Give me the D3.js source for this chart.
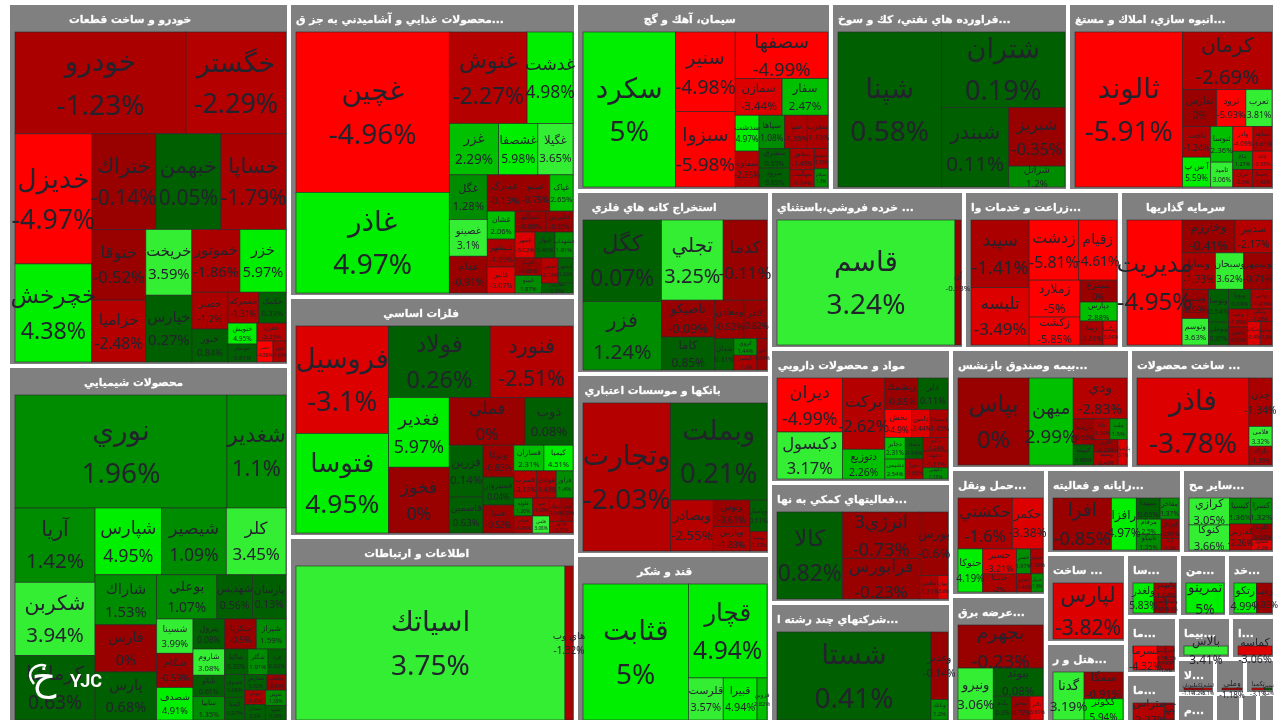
<!DOCTYPE html>
<html><head><meta charset="utf-8">
<script src="https://d3js.org/d3.v7.min.js"></script>
<style>
html,body{margin:0;padding:0;background:#fff;overflow:hidden}
svg{display:block;filter:blur(0.35px)}
text{font-family:"Noto Sans","DejaVu Sans",sans-serif}
.hd{font-family:"DejaVu Sans",sans-serif;font-weight:bold;font-size:10.7px;fill:#fff;stroke:rgba(255,255,255,.55);stroke-width:.4px;direction:ltr}
.lb{fill:#23232d;text-anchor:middle}
</style></head><body><svg id="c" width="1280" height="720"></svg>
<script>
const sectorNames=["خودرو و ساخت قطعات","محصولات شیمیایي","محصولات غذایي و آشامیدني به جز ق...","فلزات اساسي","اطلاعات و ارتباطات","سیمان، آهك و گچ","فراورده هاي نفتي، کك و سوخ...","انبوه سازي، املاك و مستغ...","استخراج کانه هاي فلزي","بانکها و موسسات اعتباري","قند و شکر","خرده فروشي،باستثناي ...","زراعت و خدمات وا...","سرمایه گذاریها","مواد و محصولات دارویي","فعالیتهاي کمکي به نها...","شرکتهاي چند رشته ا...","بیمه وصندوق بازنشس...","ساخت محصولات ...","حمل ونقل...","عرضه برق...","رایانه و فعالیته...","سایر مح...","ساخت ...","هتل و ر...","سا...","من...","خد...","ما...","ما...","بیما...","ا...","لا...","م...","","","","",""];
const sectorCaps=[102003,100598,84378,68880,53669,47940,44556,38916,35502,35114,32786,30652,24648,24490,24254,21720,21901,21480,17400,12065,12160,11560,7905,7120,6480,3339,3024,3024,2907,2550,2268,1848,1330,1140,1050,1050,780,510,510];
const stockNames=[
["خودرو","خگستر","خدیزل","خچرخش","ختراك","خبهمن","خساپا","ختوقا","خزامیا","خریخت","خپارس","خموتور","خزر","خصبر","ختور","خمحرکه","خکمک","خنویش","خوساز","ختترل","خفنر","خاور"],
["نوري","شغدیر","آریا","شکربن","کرماشا","شپارس","شیصیر","کلر","شاراك","فارس","پارس","بوعلي","شهدیس","پارسان","شسینا","شکام","شصدف","پترول","شکربا","شیراز","شاروم","نایکو","سابیا","شاکیا","شگلر","فرد","شدوق","کیمیا","شفارس","شلعاب","لبوتان","سمان","شوش","شیوه"],
["غچین","غاذر","غنوش","غدشت","غزر","غشصفا","غگیلا","غگل","غصینو","غدام","غمارگ","غبینو","غپاک","غشان","شبشهر","غالبر","غسالم","غکورش","غمهر","غبهار","غشهداب","غویتا","غپینو","غدیس","غبشهر","غفارس"],
["فروسیل","فتوسا","فولاد","فنورد","فغدیر","فخوز","فملي","ذوب","فزرین","فاسمین","ونوکا","فسبزوار","فسا","فسازان","کیمیا","فسرب","هولدی","فراور","فلوله","فجام","فبیر","فلس","فنوال","فجر","فرآور"],
["اسیاتك","هاي وب"],
["سکرد","سنیر","سبزوا","سصفها","سمازن","سفار","سدشت","سفاوه","سپاها","سپا","سغرب","سشرق","سرود","سخوز","سهگمت","سبجنو","سیلام"],
["شپنا","شتران","شبندر","شبریز","شراتل"],
["ثالوند","کرمان","ثفارس","ثرود","ثعرب","ثاخت","آ س پ","ثنوسا","ثامید","واذر","ثشاهد","ثباغ","ثتران","ثاباد","ثاصفا"],
["کگل","فزر","تجلي","کدما","تاصیکو","کاما","ومعادن","کاقر","شدان","کروی","کپشیر","کنور"],
["وتجارت","وبملت","وبصادر","وتوس","وپارس","وپاسار","وسینا"],
["قثابت","قچار","قلرست","قبیرا","قزوین"],
["قاسم","آن"],
["سپید","تلیسه","زدشت","زقیام","زملارد","زکشت","سیمرغ","دپارس","زبینا","زمگسا"],
["مدیریت","وخارزم","سدبیر","وساپا","وسبحان","وسمهر","وتسی","وتوسم","وتوصا","وبوعلی","وپویا","واتی","وصنا","وامین","ونیکی","وسکاب","وملل"],
["دیران","دکبسول","برکت","دتوزیع","ریشمك","دلر","بخش","دامین","دسبحا","دجابر","دشیمی","دتماد","دفرا","دالبر","دعبید","دکیمی"],
["کالا","انرژي3","فرابورس","بورس","نظمی","مهان"],
["شستا","وغدیر","وبانك"],
["بپاس","میهن","ودي","بازبیما","کبیمه","دانا","ملت","البرز","وسبحا","پارسیان"],
["فاذر","چدن","فلامی","بازاك"],
["حکشتي","حکمر","حتوکا","حسیر","حاسا","حسر","حبندر","حپترو","حریل"],
["بجهرم","ونیرو","بیوند","بکام","بفجر","بالبر"],
["افرا","رافزا","سپیدا","مفاخر","مرقام","تاپیکو","اپرداز","ارتا"],
["کرازي","کنوکا","کیسپا","کسرا","کفارس","کلوند","کساوه"],
["لپارس"],
["گدنا","سمگا","گکوثر"],
["ولغدر","ولبهمن","ولصنم","ولساپا"],
["تمرینو"],
["رتکو","رمپنا"],
["لسرما","لابسا","لخزر","لوتوس"],
["متراس","ممسنی","مرقام"],
["بالاس"],
["کماسه"],
["لبوتان","لکما","لطیف"],
[""],
["وملي"],
["تکمبا","تپمپي"],
[""],[""],[""]];
const stockChanges=[
[-1.23,-2.29,-4.97,4.38,-0.14,0.05,-1.79,-0.52,-2.48,3.59,0.27,-1.86,5.97,-1.2,0.84,-1.31,0.33,4.95,0.81,-2.25,-4.88,-1.68],
[1.96,1.1,1.42,3.94,0.63,4.95,1.09,3.45,1.53,0,0.68,1.07,0.56,0.13,3.99,-0.59,4.91,0.08,-0.5,1.59,3.08,0.61,1.35,0.32,1.91,0.62,0.68,0.27,0.32,-0.44,-1.47,0.3,1.39,0.39],
[-4.96,4.97,-2.27,4.98,2.29,5.98,3.65,1.28,3.1,-0.91,-0.13,-0.75,2.65,2.06,-1.09,-3.07,-0.88,-0.35,-3.02,0.46,1.91,-0.88,1.87,-2.14,0.26,0.38],
[-3.1,4.95,0.26,-2.51,5.97,0,0,0.08,0.14,0.63,-0.83,0.04,-0.52,2.31,4.51,-2.13,-1.43,1.4,1.26,-1.26,-1.99,3.08,-1.16,-0.69,-1.71],
[3.75,-1.32],
[5,-4.98,-5.98,-4.99,-3.44,2.47,4.97,-2.36,1.08,-1.35,-1.13,0.55,0.85,-1.49,-1.34,-1.15,1.3],
[0.58,0.19,0.11,-0.35,1.2],
[-5.91,-2.69,0,-5.93,3.81,-1.24,5.59,2.36,3.06,-4.09,-1.61,1.27,-2.5,-3.33,-1.42],
[0.07,1.24,3.25,-0.11,-0.09,0.85,-0.52,-0.82,0.31,1.44,-1.9,-0.57],
[-2.03,0.21,-2.55,-0.61,-1.83,0.11,-1.37],
[5,4.94,3.57,4.94,2.82],
[3.24,-0.13],
[-1.41,-3.49,-5.81,-4.61,-5,-5.85,0,2.88,-1.61,-3.34],
[-4.95,-0.41,-2.17,-1.73,3.62,-0.71,-0.99,3.63,0.54,0.35,0.09,-1.47,-1.99,-0.37,-1.28,-3.4,-1.8],
[-4.99,3.17,-2.62,2.26,-0.85,0.11,-4.9,-3.44,-1.45,2.31,2.54,0.54,-1.06,-1.24,-1.51,1.15],
[0.82,-0.73,-0.23,-0.6,-1.21,-3.6],
[0.41,-0.14,1.2],
[0,2.99,-2.83,-0.56,0.88,-1.39,1.5,-0.22,-2.42,-3.1],
[-3.78,-1.34,3.32,-1.39],
[-1.6,-3.38,4.19,-3.21,-2,1.97,-1.39,-1.48,1.9],
[-0.23,3.06,0.08,0.3,-0.72,-3.51],
[-0.85,4.97,0.65,1.37,2.5,1.25,-0.91,-1.2],
[3.05,3.66,1.36,1.32,-2.26,-0.33,-3.2],
[-3.82],
[3.19,-0.91,5.94],
[5.83,-1.04,-0.85,-1.2],
[5],
[4.99,-0.93],
[-4.32,-1.5,-1.3,-1.4],
[-2.27,-1.9,-1.4],
[3.41],
[-3.06],
[-1.1,-1.2,-3.1],
[-1],
[-1.18],
[-3.1,0.2],
[-1],[-1],[-1]];
const stockCaps=[
[17442,10200,10010,7546,6144,6240,6240,3834,3348,3036,3082,3024,2898,1332,1188,961,837,609,522,522,336,273],
[24168,6726,6000,5920,5200,4489,4355,4020,3111,2928,2989,2684,1584,1496,1260,1260,1188,960,960,900,837,682,744,598,520,468,460,460,345,299,299,322,322,299],
[24794,15554,7176,4232,2548,2028,1820,1710,1406,1406,1258,1036,851,784,784,728,651,567,520,520,468,468,468,425,375,310],
[10044,9300,7344,5976,4270,4026,3648,2304,1768,1224,992,868,868,780,754,621,540,459,342,323,306,289,276,276,276],
[42344,1264],
[14508,4800,4560,4371,1739,1702,864,864,858,759,693,620,589,525,425,280,252],
[16068,9348,5360,3304,1176],
[16692,5162,1258,1073,962,868,840,792,550,500,475,360,342,360,342],
[6478,5451,5022,3564,1998,1782,1131,897,608,391,345,320],
[13288,9603,2236,999,925,544,340],
[14734,7584,1505,1462,430],
[22428,756],
[3944,3364,2989,2318,1887,1428,814,703,552,336],
[6930,1749,1221,1221,1036,1036,780,702,660,460,440,420,342,342,312,299,276],
[3456,3008,2952,1230,1020,930,728,494,494,432,396,374,352,330,408,273],
[5785,3650,3203,1820,432,240],
[13860,1173,357],
[6248,3872,2214,540,420,336,357,312,315,231],
[9856,1127,460,437],
[2860,1612,1100,880,624,360,320,280,220],
[3800,1900,1450,450,450,325],
[3186,1350,528,418,400,400,360,216],
[1120,1040,567,567,588,336,210],
[3933],
[1581,1102,874],
[704,345,221,170],
[1216],
[704,480],
[600,136,136,136],
[2000,300,300],
[294],
[290],
[90,90,90],
[100],
[240],
[140,80],
[100],[100],[100]];

const pctColor=d3.scaleThreshold()
  .domain([-4,-3,-2,-1,0.001,1,2,3,4])
  .range(["#ff0000","#dd0000","#b50000","#aa0000","#990000","#005f00","#008c00","#00c000","#33ee33","#00ee00"]);
const labelSize=d3.scaleSqrt().domain([0,12544]).range([0,28]).clamp(true);

const squarify=d3.treemapSquarify.ratio(1);
const yBias=0.98;

const sectorRoot=d3.hierarchy({children:sectorNames.map((name,i)=>({name,cap:sectorCaps[i],i}))}).sum(d=>d.cap||0);
d3.treemap().tile(squarify).size([1267,721*yBias])(sectorRoot);
const tiles=sectorRoot.leaves().map(t=>{
  const x0=t.x0+8,x1=t.x1+8,y0=t.y0/yBias+3,y1=t.y1/yBias+3;
  return {name:t.data.name,i:t.data.i,x0:x0+2,x1:x1-2,y0:y0+2,y1:y1-2,outer:(x1-x0)*(y1-y0)};
});

const svg=d3.select("#c");
const gT=svg.append("g"),gC=svg.append("g"),gL=svg.append("g");
gT.selectAll("rect").data(tiles).join("rect")
  .attr("x",d=>d.x0).attr("y",d=>d.y0).attr("width",d=>d.x1-d.x0).attr("height",d=>d.y1-d.y0)
  .attr("fill","#808080");
gT.selectAll("text").data(tiles).join("text").attr("class","hd")
  .attr("y",d=>d.y0+18).text(d=>d.name)
  .attr("x",function(d){
    if(d.name.endsWith("...")) return d.x0+5;
    const len=this.getComputedTextLength();
    return (d.x0+d.x1)/2-len*0.65;
  });

const cells=[];
tiles.forEach(t=>{
  const ix=t.x0+5,iy=t.y0+27,iw=Math.max(1,t.x1-1-ix),ih=Math.max(1,t.y1-2-iy);
  const names=stockNames[t.i],chg=stockChanges[t.i],caps=stockCaps[t.i];
  const root=d3.hierarchy({children:names.map((n,k)=>({name:n,chg:chg[k],cap:caps[k]}))}).sum(d=>d.cap||0);
  d3.treemap().tile(squarify).size([iw,ih*yBias])(root);
  root.leaves().forEach(l=>{
    const c={name:l.data.name,chg:l.data.chg,x0:ix+l.x0,x1:ix+l.x1,y0:iy+l.y0/yBias,y1:iy+l.y1/yBias};
    c.size=labelSize((c.x1-c.x0)*(c.y1-c.y0)*t.outer/(iw*ih));
    cells.push(c);
  });
});
gC.selectAll("rect").data(cells).join("rect")
  .attr("x",d=>d.x0).attr("y",d=>d.y0).attr("width",d=>d.x1-d.x0).attr("height",d=>d.y1-d.y0)
  .attr("fill",d=>pctColor(d.chg)).attr("stroke","#2a2a2a").attr("stroke-opacity",.75).attr("stroke-width",.8);
const labelled=cells.filter(d=>d.name);
gL.selectAll(".n").data(labelled).join("text").attr("class","lb n")
  .attr("x",d=>(d.x0+d.x1)/2).attr("y",d=>(d.y0+d.y1)/2-d.size*.42)
  .attr("font-size",d=>d.size).style("direction","rtl").text(d=>d.name);
gL.selectAll(".p").data(labelled).join("text").attr("class","lb p")
  .attr("x",d=>(d.x0+d.x1)/2).attr("y",d=>(d.y0+d.y1)/2+d.size*1.13)
  .attr("font-size",d=>d.size).style("direction","ltr").text(d=>d.chg+"%");

const logo=svg.append("g").attr("fill","#fff");
logo.append("text").attr("x",44).attr("y",690).attr("font-size",38).attr("text-anchor","middle").style("font-family","DejaVu Sans").text("خ");
logo.append("path").attr("d","M34 684 C24 672,36 662,46 666").attr("fill","none").attr("stroke","#fff").attr("stroke-width",2.5);
logo.append("text").attr("x",70).attr("y",687).attr("font-size",18).attr("font-weight","bold").style("font-family","Roboto").text("YJC");
</script></body></html>
